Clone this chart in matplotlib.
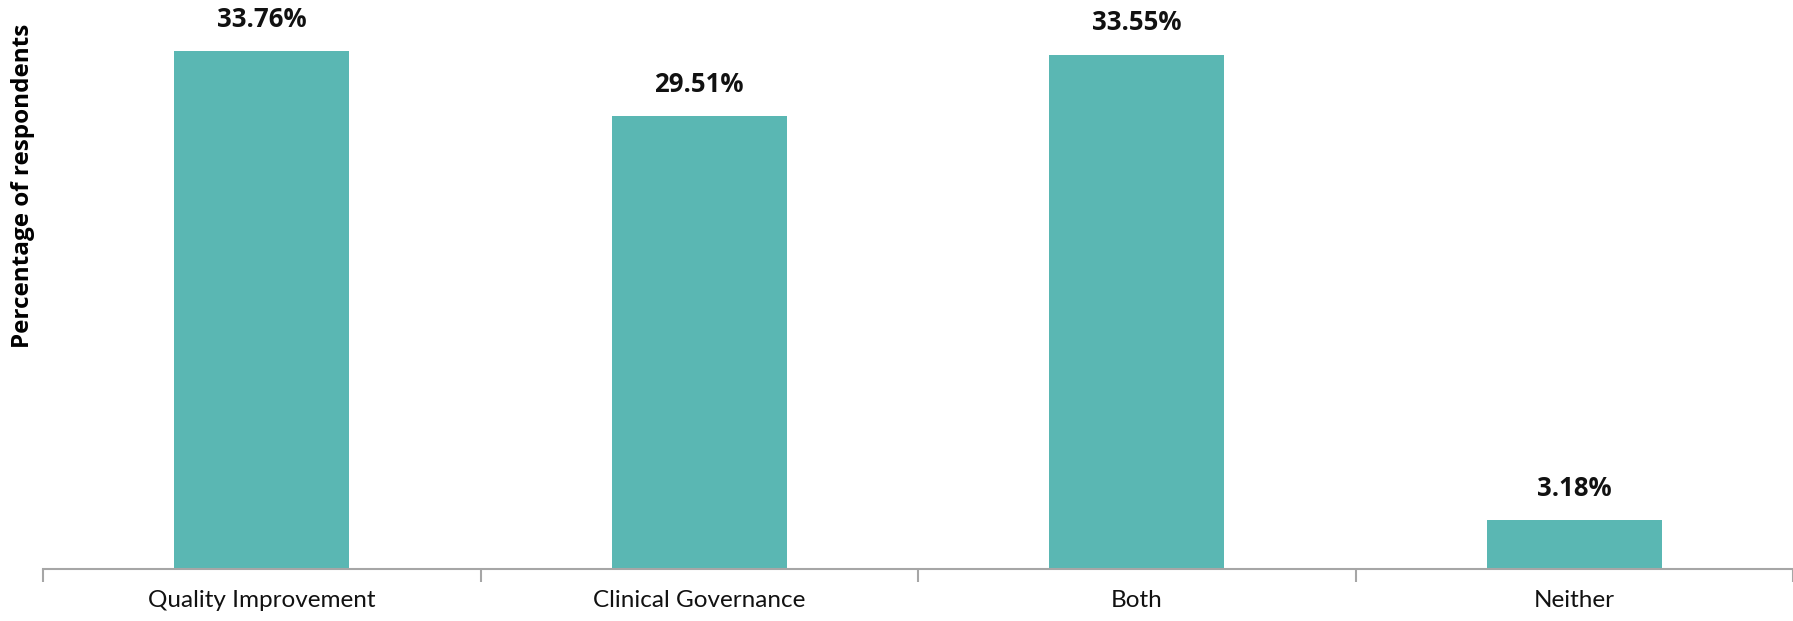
import matplotlib
matplotlib.use('Agg')
import matplotlib.pyplot as plt
import numpy as np

categories = ['Quality Improvement', 'Clinical Governance', 'Both', 'Neither']
values = [33.76, 29.51, 33.55, 3.18]
value_labels = ['33.76%', '29.51%', '33.55%', '3.18%']

bar_color = '#5ab7b3'
axis_color = '#a6a6a6'

fig = plt.figure(figsize=(17.93, 6.21), dpi=100)
ax = fig.add_axes([0.024, 0.0837, 0.976, 0.889])

x = np.arange(len(categories))
bars = ax.bar(x, values, width=0.4, color=bar_color, zorder=2)

for xi, v, lab in zip(x, values, value_labels):
    ax.annotate(lab, (xi, v), xytext=(0, 13), textcoords='offset points',
                ha='center', va='bottom', fontsize=18.5, fontweight='bold',
                family='Open Sans', color='#111111')

ax.set_xlim(-0.5, 3.5)
ax.set_ylim(0, 36)

ax.set_xticks(x)
ax.set_xticklabels(categories, fontsize=17.5, family='Lato', color='#111111')
ax.tick_params(axis='x', which='major', length=0, pad=15)
ax.set_xticks(np.arange(-0.5, 4.0, 1.0), minor=True)
ax.tick_params(axis='x', which='minor', length=9, width=1.5, color=axis_color)

ax.set_yticks([])
for side in ['top', 'right', 'left']:
    ax.spines[side].set_visible(False)
ax.spines['bottom'].set_color(axis_color)
ax.spines['bottom'].set_linewidth(1.5)

fig.text(0.0128, 0.70, 'Percentage of respondents', rotation=90, ha='center',
         va='center', fontsize=17.5, fontweight='bold', family='Open Sans')

fig.savefig('out.png', dpi=100)
